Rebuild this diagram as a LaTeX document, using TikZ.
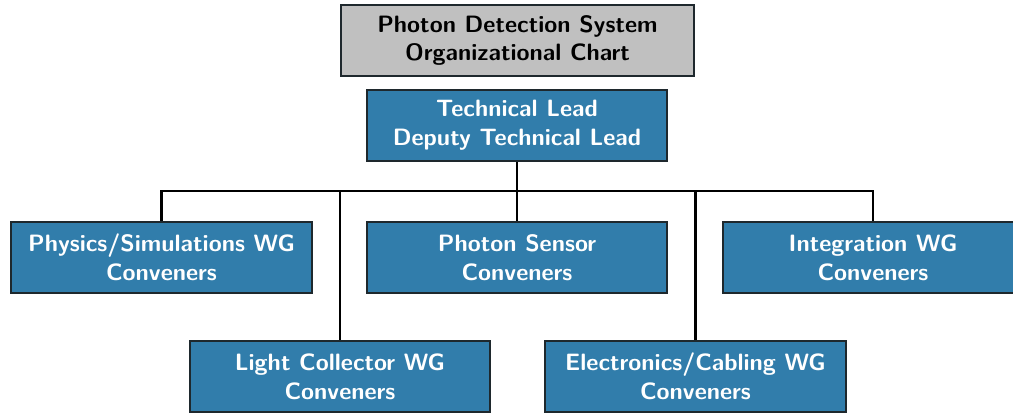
\documentclass[tikz,border=0pt]{standalone}
\definecolor{OrgBlue}{RGB}{49,125,171}
\definecolor{TitleGray}{RGB}{192,192,192}
\definecolor{EdgeDark}{RGB}{30,40,45}
\usepackage{tikz}
\usetikzlibrary{positioning,calc}

\begin{document}
\begin{tikzpicture}[x=0.0162cm, y=-0.0162cm,
      every node/.style={font=\fontsize{10.9}{13.2}\selectfont\sffamily\bfseries, align=center},
      titlebox/.style={draw=EdgeDark, fill=TitleGray, line width=0.9pt,
                   minimum width=5.72cm, minimum height=1.15cm, inner sep=2pt},
      wgbox/.style={draw=EdgeDark, fill=OrgBlue, text=white, line width=0.9pt,
                   minimum width=4.87cm, minimum height=1.15cm, inner sep=2pt},
      link/.style={line width=1.2pt, black}
  ]
    \useasboundingbox (0,0) rectangle (1013,412);
    \node[titlebox] (title) at (517.5,40.5) {Photon Detection System\\Organizational Chart};
    \node[wgbox] (lead) at (517,125.5) {Technical Lead\\Deputy Technical Lead};
    \coordinate (bus) at (517,191);
    % first row
    \node[wgbox] (phys) at (161.5,257.5) {Physics/Simulations WG\\Conveners};
    \node[wgbox] (sensor) at (517,257.5) {Photon Sensor\\Conveners};
    \node[wgbox] (integ) at (873,257.5) {Integration WG\\Conveners};
    % second row
    \node[wgbox] (light) at (340,376.5) {Light Collector WG\\Conveners};
    \node[wgbox] (elec) at (695.5,376.5) {Electronics/Cabling WG\\Conveners};
    \draw[link] (lead.south) -- (bus);
    \foreach \b in {phys,sensor,integ,light,elec} {
      \draw[link] (bus) -| (\b.north);
    }
  \end{tikzpicture}
\end{document}
